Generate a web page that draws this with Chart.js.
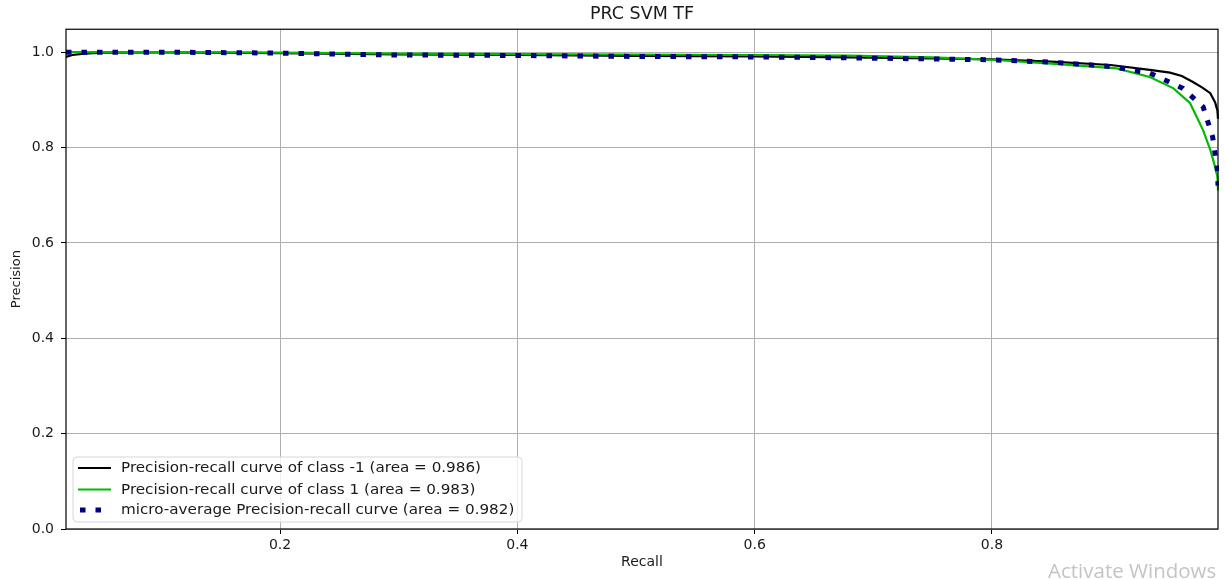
<!DOCTYPE html>
<html>
<head>
<meta charset="utf-8">
<script src="https://cdn.jsdelivr.net/npm/chart.js@4.4.1/dist/chart.umd.min.js"></script>
<style>
  html, body { margin: 0; padding: 0; background: #fff; }
  #wrap { position: relative; width: 1225px; height: 579px; }
</style>
</head>
<body>
<div id="wrap"><canvas id="c" width="1225" height="579"></canvas></div>
<script>
// ---- data ----
const chartTitle = "PRC SVM TF";
const xLabel = "Recall";
const yLabel = "Precision";
const xTicks = [0.2, 0.4, 0.6, 0.8];
const yTicks = [0.0, 0.2, 0.4, 0.6, 0.8, 1.0];
const seriesNames = [
  "Precision-recall curve of class -1 (area = 0.986)",
  "Precision-recall curve of class 1 (area = 0.983)",
  "micro-average Precision-recall curve (area = 0.982)"
];
const recallNeg = [0.0196, 0.025, 0.035, 0.05, 0.1, 0.2, 0.3, 0.4, 0.5, 0.6, 0.68, 0.75, 0.8, 0.85, 0.9, 0.933, 0.95, 0.96, 0.969, 0.977, 0.984, 0.988, 0.990, 0.9905];
const precisionNeg = [0.990, 0.994, 0.997, 0.999, 0.9995, 0.998, 0.995, 0.994, 0.992, 0.991, 0.989, 0.987, 0.985, 0.980, 0.973, 0.963, 0.957, 0.950, 0.938, 0.926, 0.914, 0.895, 0.878, 0.860];
const recallPos = [0.0196, 0.1, 0.2, 0.3, 0.4, 0.5, 0.6, 0.68, 0.75, 0.8, 0.85, 0.905, 0.933, 0.953, 0.967, 0.978, 0.984, 0.988, 0.990, 0.9905];
const precisionPos = [1.0, 1.0, 0.999, 0.997, 0.996, 0.995, 0.994, 0.993, 0.989, 0.984, 0.976, 0.966, 0.948, 0.924, 0.893, 0.836, 0.795, 0.760, 0.738, 0.710];
const recallMicro = [0.0196, 0.1, 0.2, 0.3, 0.4, 0.5, 0.6, 0.68, 0.8, 0.85, 0.9, 0.933, 0.961, 0.978, 0.986, 0.990, 0.9905];
const precisionMicro = [1.0, 1.0, 0.998, 0.994, 0.993, 0.991, 0.990, 0.988, 0.984, 0.979, 0.970, 0.956, 0.924, 0.885, 0.822, 0.753, 0.720];
const watermark = "Activate Windows";

const xMin = 0.0196, xMax = 0.9905, yMin = 0.0, yMax = 1.048;
const FONT = "'DejaVu Sans', sans-serif";

function pts(xs, ys) { return xs.map((x, i) => ({ x: x, y: ys[i] })); }

const styles = [
  { color: '#000000', width: 2.2, dash: [], x0: 78, x1: 111 },
  { color: '#00bb00', width: 2.2, dash: [], x0: 78, x1: 111 },
  { color: '#000080', width: 5, dash: [5.5, 10], x0: 80, x1: 101 }
];

const framePlugin = {
  id: 'frame',
  afterDatasetsDraw(chart) {
    const { ctx, chartArea: a } = chart;
    ctx.save();
    ctx.strokeStyle = '#000';
    ctx.lineWidth = 1.2;
    ctx.strokeRect(a.left, a.top, a.right - a.left, a.bottom - a.top);
    ctx.restore();
  },
  afterDraw(chart) {
    const ctx = chart.ctx;
    // legend
    ctx.save();
    const bx = 73, by = 457, bw = 449, bh = 65, r = 4;
    ctx.beginPath();
    ctx.moveTo(bx + r, by);
    ctx.arcTo(bx + bw, by, bx + bw, by + bh, r);
    ctx.arcTo(bx + bw, by + bh, bx, by + bh, r);
    ctx.arcTo(bx, by + bh, bx, by, r);
    ctx.arcTo(bx, by, bx + bw, by, r);
    ctx.closePath();
    ctx.fillStyle = 'rgba(255,255,255,0.8)';
    ctx.fill();
    ctx.strokeStyle = '#d6d6d6';
    ctx.lineWidth = 1;
    ctx.stroke();
    const rows = [468, 489.5, 510];
    ctx.font = '13.5px ' + FONT;
    ctx.textBaseline = 'middle';
    ctx.fillStyle = '#1a1a1a';
    const w0 = ctx.measureText(seriesNames[0]).width;
    const sx = 360 / w0;
    seriesNames.forEach((name, i) => {
      const s = styles[i];
      ctx.beginPath();
      ctx.setLineDash(s.dash);
      ctx.lineCap = 'butt';
      ctx.strokeStyle = s.color;
      ctx.lineWidth = s.width;
      ctx.moveTo(s.x0, rows[i]);
      ctx.lineTo(s.x1, rows[i]);
      ctx.stroke();
      ctx.setLineDash([]);
      ctx.save();
      ctx.translate(121, rows[i] + 0.5);
      ctx.scale(sx, 1);
      ctx.fillText(name, 0, 0);
      ctx.restore();
    });
    // watermark
    ctx.font = "20.5px 'Open Sans', sans-serif";
    ctx.fillStyle = '#c4c4c4';
    ctx.textBaseline = 'alphabetic';
    ctx.textAlign = 'left';
    ctx.fillText(watermark, 1048, 578);
    ctx.restore();
  }
};

new Chart(document.getElementById('c'), {
  type: 'line',
  data: {
    datasets: [
      { label: seriesNames[0], data: pts(recallNeg, precisionNeg), borderColor: styles[0].color, borderWidth: styles[0].width, order: 3 },
      { label: seriesNames[1], data: pts(recallPos, precisionPos), borderColor: styles[1].color, borderWidth: styles[1].width, order: 2 },
      { label: seriesNames[2], data: pts(recallMicro, precisionMicro), borderColor: styles[2].color, borderWidth: styles[2].width, borderDash: styles[2].dash, borderCapStyle: 'butt', order: 1 }
    ].map(d => Object.assign(d, { pointRadius: 0, tension: 0, fill: false, clip: 1 }))
  },
  options: {
    responsive: false,
    animation: false,
    layout: { padding: { left: 0, right: 7, top: 0, bottom: 0 } },
    plugins: {
      legend: { display: false },
      tooltip: { enabled: false },
      title: {
        display: true, text: chartTitle, fullSize: false, color: '#1a1a1a',
        font: { family: FONT, size: 17.5, weight: 'normal', lineHeight: 1.1 },
        padding: { top: 5, bottom: 5 }
      }
    },
    scales: {
      x: {
        type: 'linear', min: xMin, max: xMax,
        afterBuildTicks: s => { s.ticks = xTicks.map(v => ({ value: v })); },
        afterFit: s => { s.height = 50; },
        grid: { color: '#b0b0b0', lineWidth: 1, tickLength: 5, tickColor: '#000', tickWidth: 1 },
        border: { display: false },
        ticks: { color: '#1a1a1a', font: { family: FONT, size: 14 }, padding: 3, maxRotation: 0, autoSkip: false, callback: v => v.toFixed(1) },
        title: { display: true, text: xLabel, color: '#1a1a1a', font: { family: FONT, size: 14 }, padding: { top: 0, bottom: 8 } }
      },
      y: {
        type: 'linear', min: yMin, max: yMax,
        afterBuildTicks: s => { s.ticks = yTicks.map(v => ({ value: v })); },
        afterFit: s => { s.width = 66; },
        grid: { color: '#b0b0b0', lineWidth: 1, tickLength: 5, tickColor: '#000', tickWidth: 1 },
        border: { display: false },
        ticks: { color: '#1a1a1a', font: { family: FONT, size: 14 }, padding: 7, autoSkip: false, callback: v => v.toFixed(1) },
        title: { display: true, text: yLabel, color: '#1a1a1a', font: { family: FONT, size: 13 }, padding: { top: 9, bottom: 0 } }
      }
    }
  },
  plugins: [framePlugin]
});
</script>
</body>
</html>
